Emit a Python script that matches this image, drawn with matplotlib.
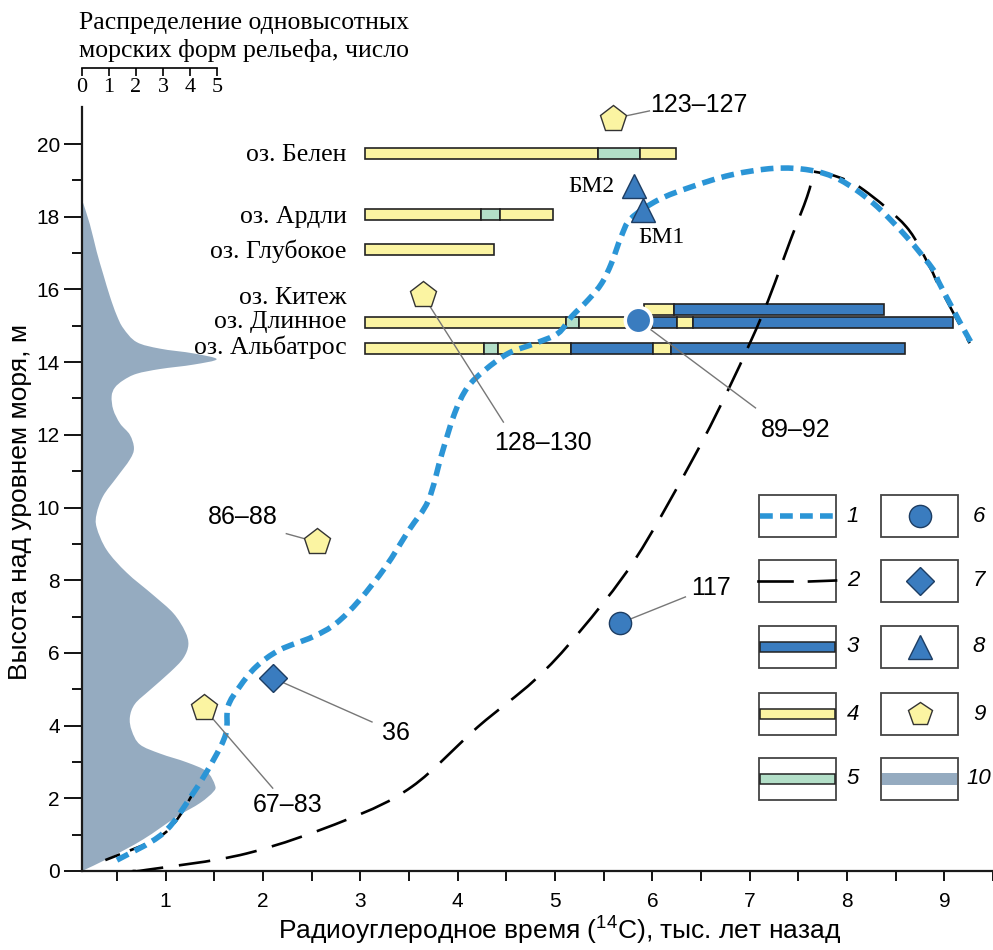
import matplotlib
matplotlib.use('Agg')
import matplotlib.pyplot as plt
from matplotlib import font_manager as fm
from matplotlib.patches import Rectangle, PathPatch
from matplotlib.path import Path

names = {f.name for f in fm.fontManager.ttflist}
NARROW = 'Liberation Sans Narrow' if 'Liberation Sans Narrow' in names else 'Liberation Sans'
SANS = 'Liberation Sans'
SERIF = 'Liberation Serif'

plt.rcParams['font.family'] = [NARROW, 'DejaVu Sans']
plt.rcParams['mathtext.fontset'] = 'custom'
plt.rcParams['mathtext.rm'] = NARROW
plt.rcParams['mathtext.it'] = NARROW

# ---------------- data ----------------
# distribution of single-height marine landforms (count) vs height (m)
dist_height = [0.0, 0.37, 0.87, 1.49, 1.87, 2.18, 2.36, 2.74, 2.99, 3.23, 3.48, 3.86, 4.23,
               4.60, 4.98, 5.47, 5.85, 6.22, 6.59, 7.09, 7.59, 8.21, 8.83, 9.45, 9.83, 10.32,
               10.82, 11.32, 11.63, 12.0, 12.31, 12.69, 13.06, 13.30, 13.50, 13.68, 13.81,
               13.93, 14.08, 14.24, 14.37, 14.55, 14.93, 15.30, 15.80, 16.42, 17.04, 17.79, 18.47]
dist_count = [0.0, 1.03, 2.25, 3.48, 4.34, 4.83, 4.89, 4.58, 3.85, 2.87, 2.13, 1.83, 1.76,
              1.95, 2.50, 3.24, 3.72, 3.91, 3.79, 3.36, 2.62, 1.64, 0.91, 0.54, 0.54, 0.78,
              1.27, 1.76, 1.91, 1.76, 1.40, 1.15, 1.09, 1.21, 1.52, 2.01, 2.87,
              4.09, 4.95, 4.09, 2.87, 2.01, 1.52, 1.27, 1.03, 0.78, 0.54, 0.29, 0.0]

# curve 1 (relative sea-level curve)
curve1_x = [0.50, 0.975, 1.28, 1.49, 1.62, 1.64, 1.76, 1.93, 2.17, 2.51, 2.75, 2.99, 3.26,
            3.50, 3.70, 3.84, 3.97, 4.10, 4.28, 4.52, 4.79, 5.03, 5.17, 5.34, 5.48, 5.58,
            5.68, 5.78, 6.06, 6.40, 6.81, 7.25, 7.62, 7.93, 8.27, 8.61, 8.89, 8.95, 9.26, 9.31]
curve1_y = [0.30, 1.04, 2.13, 3.05, 3.79, 4.52, 5.07, 5.62, 6.08, 6.44, 6.81, 7.45, 8.37,
            9.38, 10.20, 11.50, 12.60, 13.30, 13.78, 14.24, 14.51, 14.79, 15.25, 15.71, 16.17, 16.72,
            17.45, 17.95, 18.46, 18.82, 19.15, 19.33, 19.28, 19.01, 18.37, 17.45, 16.53, 16.16, 14.61, 14.50]

# curve 2 (rising limb up to the corner, then falling limb)
curve2_x = [0.66, 0.80, 1.83, 2.85, 3.53, 4.21, 4.79, 5.24, 5.82, 6.43, 6.81, 7.15, 7.42,
            7.59, 7.66, 7.90, 8.17, 8.61, 8.85, 8.95, 9.26]
curve2_y = [0.0, 0.03, 0.48, 1.40, 2.32, 3.97, 5.25, 6.54, 8.56, 11.40, 13.41, 15.43, 17.36,
            18.55, 19.24, 19.10, 18.74, 17.72, 16.62, 16.07, 14.52]
curve2_corner = 14
curve2_low_x = [0.38, 0.98, 1.28]
curve2_low_y = [0.30, 1.02, 2.12]

# lakes: names, bar level, label level, segment boundaries and types
lake_names = ['оз. Белен', 'оз. Ардли', 'оз. Глубокое', 'оз. Китеж', 'оз. Длинное', 'оз. Альбатрос']
lake_levels = [19.75, 18.06, 17.09, 15.44, 15.08, 14.38]
lake_label_levels = [19.70, 17.99, 17.06, 15.76, 15.10, 14.42]
lake_bounds = [
    [3.05, 5.44, 5.87, 6.24],
    [3.05, 4.24, 4.44, 4.98],
    [3.05, 4.37],
    [5.91, 6.22, 8.38],
    [3.05, 5.11, 5.245, 6.00, 6.25, 6.42, 9.09],
    [3.05, 4.27, 4.41, 5.16, 6.01, 6.19, 8.60],
]
lake_types = [
    ['y', 'g', 'y'],
    ['y', 'g', 'y'],
    ['y'],
    ['y', 'b'],
    ['y', 'g', 'y', 'b', 'y', 'b'],
    ['y', 'g', 'y', 'b', 'y', 'b'],
]

# point samples
circle_x, circle_y, circle_lab = [5.67, 5.85], [6.82, 15.16], ['117', '89–92']
diamond_x, diamond_y, diamond_lab = [2.10], [5.31], ['36']
tri_x, tri_y, tri_lab = [5.81, 5.90], [18.84, 18.18], ['БМ2', 'БМ1']
pent_x = [1.39, 2.55, 3.64, 5.60]
pent_y = [4.48, 9.05, 15.85, 20.70]
pent_lab = ['67–83', '86–88', '128–130', '123–127']

# ---------------- styling ----------------
C_BLUE = '#3a7cbf'
C_YEL = '#fbf4a2'
C_GRN = '#b3dfc8'
C_DIST = '#95abc0'
C_CURVE = '#2b95d6'
C_EDGE = '#222222'
seg_color = {'y': C_YEL, 'g': C_GRN, 'b': C_BLUE}


def smooth_verts(xs, ys):
    """Cubic Bezier path (Catmull-Rom tangents) through the given points."""
    pts = list(zip(xs, ys))
    n = len(pts)
    verts = [pts[0]]
    codes = [Path.MOVETO]
    for i in range(n - 1):
        p0 = pts[i - 1] if i > 0 else pts[i]
        p1, p2 = pts[i], pts[i + 1]
        p3 = pts[i + 2] if i + 2 < n else pts[i + 1]
        c1 = (p1[0] + (p2[0] - p0[0]) / 6, p1[1] + (p2[1] - p0[1]) / 6)
        c2 = (p2[0] - (p3[0] - p1[0]) / 6, p2[1] - (p3[1] - p1[1]) / 6)
        verts += [c1, c2, p2]
        codes += [Path.CURVE4] * 3
    return verts, codes


def smooth_line(axis, xs, ys, **kw):
    v, c = smooth_verts(xs, ys)
    patch = PathPatch(Path(v, c), fill=False, **kw)
    axis.add_patch(patch)
    return patch


W, H = 993, 950
def fx(px): return px / W
def fy(py): return 1 - py / H

fig = plt.figure(figsize=(9.93, 9.5), dpi=100)
rect = [fx(82), fy(871), fx(993) - fx(82), fy(107) - fy(871)]
ax = fig.add_axes(rect)
ax_d = fig.add_axes(rect, sharey=ax)
ax_d.set_zorder(0)
ax.set_zorder(1)
ax.patch.set_visible(False)

x0 = (82 - 68.25) / 97.75
x1 = (993 - 68.25) / 97.75
ax.set_xlim(x0, x1)
ax.set_ylim(0, (871 - 107) / 36.35)

# distribution (10)
ax_d.set_xlim(0, (993 - 82) / 27.2)
v, c = smooth_verts(dist_count, dist_height)
v = v + [(0, dist_height[-1]), (0, dist_height[0]), (0, 0)]
c = c + [Path.LINETO, Path.LINETO, Path.CLOSEPOLY]
ax_d.add_patch(PathPatch(Path(v, c), facecolor=C_DIST, lw=0))
ax_d.axis('off')

# axes styling
for s in ['top', 'right']:
    ax.spines[s].set_visible(False)
for s in ['left', 'bottom']:
    ax.spines[s].set_linewidth(1.6)
    ax.spines[s].set_color('#1a1a1a')
ax.set_xticks(range(1, 10))
ax.set_xticks([i + 0.5 for i in range(0, 10)], minor=True)
ax.set_yticks(range(0, 21, 2))
ax.set_yticks(range(1, 21, 2), minor=True)
ax.tick_params(axis='x', which='both', direction='out', length=7, width=1.3, labelsize=15, pad=8)
ax.tick_params(axis='y', which='major', direction='out', length=13, width=1.3, labelsize=15, pad=3)
ax.tick_params(axis='y', which='minor', direction='out', length=7, width=1.3)
for lbl in ax.get_xticklabels() + ax.get_yticklabels():
    lbl.set_family(SANS)
ax.set_xlabel(r'Радиоуглеродное время ($^{14}$C), тыс. лет назад', fontsize=19)
ax.set_ylabel('Высота над уровнем моря, м', fontsize=19)
ax.xaxis.set_label_coords((560 - 82) / 911, -44 / 764)
ax.yaxis.set_label_coords(-50 / 911, (871 - 502) / 764)

# lake bars
bar_h = 0.30
for name, lvl, llvl, bnds, typs in zip(lake_names, lake_levels, lake_label_levels, lake_bounds, lake_types):
    for i, t in enumerate(typs):
        ax.barh(lvl, bnds[i + 1] - bnds[i], left=bnds[i], height=bar_h, color=seg_color[t],
                edgecolor=C_EDGE, linewidth=1.2, zorder=3)
    ax.text(2.86, llvl, name, ha='right', va='center', family=SERIF, fontsize=18.5, zorder=3)

# curves
k = curve2_corner
dash2 = dict(edgecolor='black', lw=1.9, linestyle=(0, (12, 6)), zorder=4, capstyle='butt')
smooth_line(ax, curve2_x[:k + 1], curve2_y[:k + 1], **dash2)
smooth_line(ax, curve2_x[k:], curve2_y[k:], **dash2)
smooth_line(ax, curve2_low_x, curve2_low_y, edgecolor='black', lw=1.9, linestyle=(0, (6, 4)), zorder=4)
smooth_line(ax, curve1_x, curve1_y, edgecolor=C_CURVE, lw=4.0, linestyle=(0, (2.3, 1.3)),
            zorder=4.5, capstyle='butt')

# leader lines & labels
lead_kw = dict(color='#777777', lw=1.0, zorder=5)
txt_kw = dict(family=SANS, fontsize=18, ha='center', va='center', zorder=7)
circ_lead = [(6.34, 7.54), (7.06, 12.74)]
circ_txt = [(6.60, 7.79), (7.47, 12.13)]
for x, y, lab, le, tp in zip(circle_x, circle_y, circle_lab, circ_lead, circ_txt):
    ax.plot([x, le[0]], [y, le[1]], **lead_kw)
    ax.text(tp[0], tp[1], lab, **txt_kw)
ax.plot(circle_x[0], circle_y[0], 'o', ms=16, mfc=C_BLUE, mec='#1d3d63', mew=1.0, zorder=6)
ax.plot(circle_x[1], circle_y[1], 'o', ms=19, mfc=C_BLUE, mec='white', mew=2.5, zorder=6)
ax.plot([diamond_x[0], 3.12], [diamond_y[0], 4.10], **lead_kw)
ax.text(3.37, 3.80, diamond_lab[0], **txt_kw)
ax.plot(diamond_x, diamond_y, 'D', ms=14, mfc=C_BLUE, mec='#1d3d63', mew=1.0, zorder=6)
ax.plot(tri_x, tri_y, '^', ms=17, mfc=C_BLUE, mec='#1d3d63', mew=1.0, zorder=6)
ax.text(5.37, 18.82, tri_lab[0], family=SERIF, fontsize=17, ha='center', va='center', zorder=7)
ax.text(6.09, 17.44, tri_lab[1], family=SERIF, fontsize=17, ha='center', va='center', zorder=7)
pent_lead = [(2.10, 2.28), (2.24, 9.28), (4.47, 12.35), (5.97, 20.91)]
pent_txt = [(2.25, 1.82, 'center'), (1.79, 9.74, 'center'), (4.88, 11.77, 'center'), (5.98, 21.07, 'left')]
for x, y, lab, le, tp in zip(pent_x, pent_y, pent_lab, pent_lead, pent_txt):
    ax.plot([x, le[0]], [y, le[1]], **lead_kw)
    kw = dict(txt_kw)
    kw['ha'] = tp[2]
    ax.text(tp[0], tp[1], lab, **kw)
ax.plot(pent_x, pent_y, 'p', ms=20, mfc=C_YEL, mec='#333333', mew=1.0, zorder=6, clip_on=False)

# top scale for the distribution
ax_s = fig.add_axes([fx(82), fy(68), fx(217) - fx(82), 0.0001])
ax_s.patch.set_visible(False)
for s in ['top', 'left', 'right']:
    ax_s.spines[s].set_visible(False)
ax_s.spines['bottom'].set_linewidth(1.2)
ax_s.set_xlim(0, 5)
ax_s.set_xticks(range(0, 6))
ax_s.set_yticks([])
ax_s.tick_params(axis='x', direction='out', length=6, width=1.2, pad=1, labelsize=16)
for lbl in ax_s.get_xticklabels():
    lbl.set_family(SERIF)
fig.text(fx(79), fy(23), 'Распределение одновысотных', family=SERIF, fontsize=18.5, ha='left', va='center')
fig.text(fx(79), fy(50), 'морских форм рельефа, число', family=SERIF, fontsize=18.5, ha='left', va='center')

# legend (drawn in pixel space)
lg = fig.add_axes([0, 0, 1, 1])
lg.set_xlim(0, W)
lg.set_ylim(H, 0)
lg.axis('off')
lg.set_zorder(10)
rows = [495, 560, 626, 693, 758]
box_h = 42
cols = [759, 881]
box_w = 77
for ci, cx in enumerate(cols):
    for ri, ry in enumerate(rows):
        lg.add_patch(Rectangle((cx, ry), box_w, box_h, facecolor='white', edgecolor='#444444', lw=1.3))
        n = ci * 5 + ri + 1
        lg.text(cx + box_w + (17 if ci == 0 else 21), ry + box_h / 2, str(n), family=SANS, style='italic',
                fontsize=16, ha='center', va='center')
L, R = cols[0], cols[0] + box_w
cy = [r + box_h / 2 for r in rows]
lg.plot([L + 1, R - 1], [cy[0], cy[0]], color=C_CURVE, lw=4.0, dashes=(2.3, 1.3), dash_capstyle='butt')
lg.plot([L - 1, L + 33], [cy[1], cy[1]], color='black', lw=1.9)
lg.plot([L + 50, R], [cy[1] + 0.5, cy[1] - 0.5], color='black', lw=1.9)
for ri, c in zip([2, 3, 4], [C_BLUE, C_YEL, C_GRN]):
    lg.add_patch(Rectangle((L + 1, cy[ri] - 5), box_w - 2, 10, facecolor=c, edgecolor=C_EDGE, lw=1.1))
L2 = cols[1] + box_w / 2
lg.plot(L2, cy[0], 'o', ms=16, mfc=C_BLUE, mec='#1d3d63', mew=1.0)
lg.plot(L2, cy[1], 'D', ms=14, mfc=C_BLUE, mec='#1d3d63', mew=1.0)
lg.plot(L2, cy[2], '^', ms=17, mfc=C_BLUE, mec='#1d3d63', mew=1.0)
lg.plot(L2, cy[3], 'p', ms=18, mfc=C_YEL, mec='#333333', mew=1.0)
lg.add_patch(Rectangle((cols[1] + 1, cy[4] - 6), box_w - 2, 12, facecolor=C_DIST, lw=0))

fig.savefig('out.png', dpi=100)
